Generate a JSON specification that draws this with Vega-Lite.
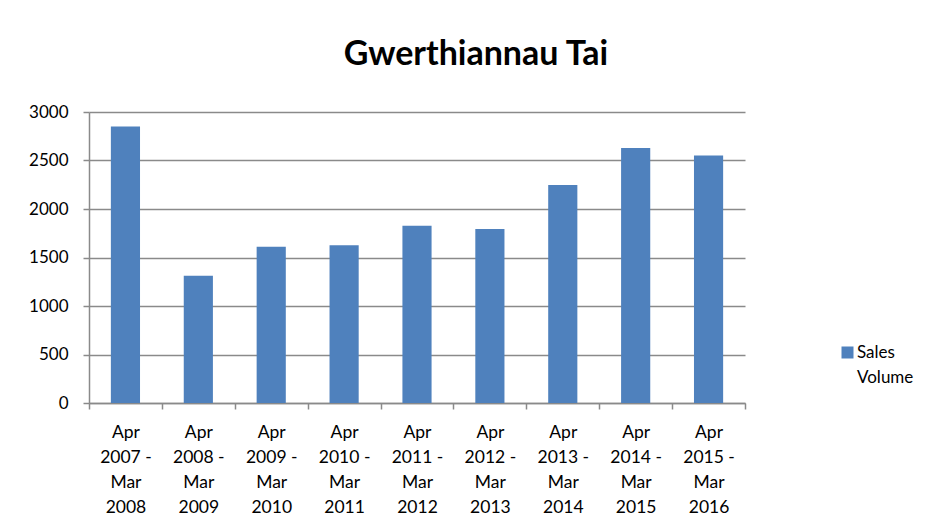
{
  "$schema": "https://vega.github.io/schema/vega-lite/v6.json",
  "width": 656,
  "height": 291,
  "autosize": {"type": "none"},
  "padding": {"left": 89, "top": 112, "right": 186, "bottom": 126},
  "background": "white",
  "title": {
    "text": "Gwerthiannau Tai",
    "font": "Lato",
    "fontSize": 34,
    "fontWeight": "bold",
    "color": "black",
    "anchor": "middle",
    "dx": 59,
    "baseline": "alphabetic",
    "offset": 4
  },
  "data": {
    "values": [
      {"period": "Apr 2007 - Mar 2008", "sales": 2850, "series": "Sales Volume"},
      {"period": "Apr 2008 - Mar 2009", "sales": 1312, "series": "Sales Volume"},
      {"period": "Apr 2009 - Mar 2010", "sales": 1611, "series": "Sales Volume"},
      {"period": "Apr 2010 - Mar 2011", "sales": 1626, "series": "Sales Volume"},
      {"period": "Apr 2011 - Mar 2012", "sales": 1828, "series": "Sales Volume"},
      {"period": "Apr 2012 - Mar 2013", "sales": 1794, "series": "Sales Volume"},
      {"period": "Apr 2013 - Mar 2014", "sales": 2247, "series": "Sales Volume"},
      {"period": "Apr 2014 - Mar 2015", "sales": 2628, "series": "Sales Volume"},
      {"period": "Apr 2015 - Mar 2016", "sales": 2552, "series": "Sales Volume"}
    ]
  },
  "mark": {"type": "bar", "width": {"band": 0.4}},
  "encoding": {
    "x": {
      "field": "period",
      "type": "nominal",
      "sort": null,
      "scale": {"paddingInner": 0, "paddingOuter": 0},
      "axis": {
        "title": null,
        "labelAngle": 0,
        "tickBand": "extent",
        "labelExpr": "[substring(datum.label,0,3), substring(datum.label,4,10), substring(datum.label,11,14), substring(datum.label,15)]",
        "labelLineHeight": 25.3,
        "labelPadding": 14,
        "labelFont": "Lato",
        "labelFontSize": 17.5,
        "labelColor": "black",
        "domainColor": "#8a8a8a",
        "domainWidth": 1.5,
        "tickColor": "#8a8a8a",
        "tickWidth": 1.5,
        "tickSize": 6,
        "grid": false
      }
    },
    "y": {
      "field": "sales",
      "type": "quantitative",
      "scale": {"domain": [0, 3000], "nice": false},
      "axis": {
        "title": null,
        "format": "d",
        "values": [0, 500, 1000, 1500, 2000, 2500, 3000],
        "labelFont": "Lato",
        "labelFontSize": 17,
        "labelColor": "black",
        "labelPadding": 15,
        "domainColor": "#8a8a8a",
        "domainWidth": 1.5,
        "tickColor": "#8a8a8a",
        "tickWidth": 1.5,
        "tickSize": 6,
        "grid": true,
        "gridColor": "#8a8a8a",
        "gridWidth": 1.5
      }
    },
    "color": {
      "field": "series",
      "type": "nominal",
      "scale": {"range": ["#4F81BD"]},
      "legend": {
        "title": null,
        "orient": "none",
        "legendX": 750,
        "legendY": 232,
        "symbolType": "square",
        "symbolSize": 144,
        "symbolStrokeWidth": 0,
        "labelExpr": "split(datum.label, ' ')",
        "labelFont": "Lato",
        "labelFontSize": 17,
        "labelColor": "black",
        "labelOffset": 1,
        "labelBaseline": "middle"
      }
    }
  },
  "config": {
    "view": {"stroke": null},
    "style": {"guide-label": {"lineHeight": 25}}
  }
}
